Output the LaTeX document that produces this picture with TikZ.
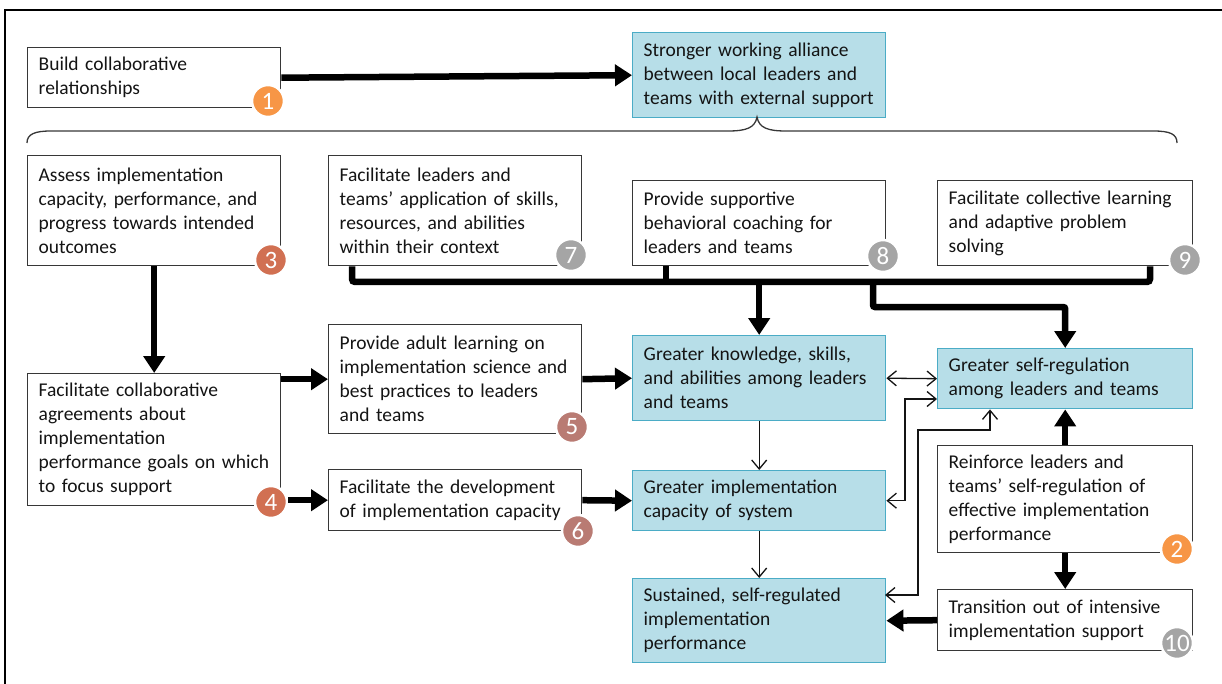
\documentclass[tikz,border=0pt]{standalone}
\usepackage{fontspec}
\setmainfont{Carlito}
\usetikzlibrary{arrows.meta,calc}
\definecolor{outfill}{HTML}{B7DEE8}
\definecolor{tealedge}{HTML}{4BACC6}
\definecolor{badgeorange}{HTML}{F79646}
\definecolor{badgerust}{HTML}{D17052}
\definecolor{badgerose}{HTML}{B97B73}
\definecolor{badgegray}{HTML}{A5A5A5}
\definecolor{ink}{HTML}{141414}
\begin{document}
\begin{tikzpicture}[x=1pt,y=-1pt,
  actbox/.style={draw=ink!85, line width=1.4pt, fill=white, anchor=north west,
    inner xsep=11pt, inner ysep=0pt, align=left, text=ink,
    font=\fontsize{19.5}{24}\selectfont},
  outbox/.style={actbox, draw=tealedge, fill=outfill},
  badge/.style={circle, fill=#1, draw=white, line width=2.5pt, minimum size=32pt,
    inner sep=0pt, text=white, font=\fontsize{25}{25}\selectfont},
  heavy/.style={line width=6.5pt, -{Triangle[length=17pt,width=21pt]}},
  bus/.style={line width=6.5pt, rounded corners=3pt},
  lightto/.style={line width=1.3pt, draw=ink, -{Straight Barb[length=9pt,width=15pt]}},
  lightboth/.style={line width=1.3pt, draw=ink,
    {Straight Barb[length=9pt,width=15pt]}-{Straight Barb[length=9pt,width=15pt]}}]
\useasboundingbox (0,0) rectangle (1222,684);

% outer frame
\draw[line width=2.5pt] (5,690) -- (5,10) -- (1230,10);

% activity boxes and outcome boxes
\node[actbox, minimum height=60pt, text width=231pt] (b1) at (27,47)
  {Build collaborative\\relationships};
\node[outbox, minimum height=85pt, text width=231pt] (alliance) at (632,32)
  {Stronger working alliance\\between local leaders and\\teams with external support};
\node[actbox, minimum height=110pt, text width=231pt] (b3) at (27,155)
  {Assess implementation\\capacity, performance, and\\progress towards intended\\outcomes};
\node[actbox, minimum height=110pt, text width=231pt] (b7) at (328,155)
  {Facilitate leaders and\\teams’ application of skills,\\resources, and abilities\\within their context};
\node[actbox, minimum height=85pt, text width=231pt] (b8) at (632,180)
  {Provide supportive\\behavioral coaching for\\leaders and teams};
\node[actbox, minimum height=85pt, text width=233pt] (b9) at (937,180)
  {Facilitate collective learning\\and adaptive problem\\solving};
\node[actbox, minimum height=132pt, text width=231pt] (b4) at (27,373)
  {Facilitate collaborative\\agreements about\\implementation\\performance goals on which\\to focus support};
\node[actbox, minimum height=109pt, text width=231pt] (b5) at (328,324)
  {Provide adult learning on\\implementation science and\\best practices to leaders\\and teams};
\node[actbox, minimum height=61pt, text width=231pt] (b6) at (328,469)
  {Facilitate the development\\of implementation capacity};
\node[outbox, minimum height=85pt, text width=231pt] (ksa) at (632,335)
  {Greater knowledge, skills,\\and abilities among leaders\\and teams};
\node[outbox, minimum height=60pt, text width=231pt] (gic) at (632,470)
  {Greater implementation\\capacity of system};
\node[outbox, minimum height=84pt, text width=231pt] (ssr) at (632,578)
  {Sustained, self-regulated\\implementation\\performance};
\node[outbox, minimum height=60pt, text width=233pt] (sr) at (937,348)
  {Greater self-regulation\\among leaders and teams};
\node[actbox, minimum height=107pt, text width=233pt] (b2) at (937,445)
  {Reinforce leaders and\\teams’ self-regulation of\\effective implementation\\performance};
\node[actbox, minimum height=61pt, text width=233pt] (b10) at (937,589)
  {Transition out of intensive\\implementation support};

% brace grouping the supports under the working alliance
\draw[line width=1.3pt, draw=ink!85]
  (27,143) .. controls (27,134) and (35,131) .. (51,131) -- (728,131)
  .. controls (746,131) and (755,128) .. (757,117)
  .. controls (759,128) and (768,131) .. (786,131) -- (1153,131)
  .. controls (1170,131) and (1177,134) .. (1177,143);

% shared support bus
\coordinate (busL) at (352,282);
\coordinate (busR) at (1150,282);
\coordinate (drop8) at (666,282);
\coordinate (fork) at (873,282);
\coordinate (elbow) at (873,307);
\draw[bus] (b7.south -| busL) -- (busL) -- (busR) -- (b9.south -| busR);
\draw[bus] (b8.south -| drop8) -- (drop8);
\draw[heavy] (ksa.north |- busL) -- (ksa.north);
\draw[heavy, rounded corners=2pt] (fork) -- (elbow) -- (sr.north |- elbow) -- (sr.north);

% heavy connectors
\draw[heavy] (b1.east) -- (alliance.west);
\draw[heavy] (b3.south) -- (b4.north);
\draw[heavy] (b4.east |- b5.west) -- (b5.west);
\draw[heavy] (b5.east) -- (ksa.west);
\draw[heavy] (b6.east) -- (gic.west);
\draw[heavy] (b2.north) -- (sr.south);
\draw[heavy] (b2.south) -- (b10.north);
\draw[heavy] (b10.west) -- (ssr.east);

% light feedback connectors
\coordinate (j1) at (905,399);
\coordinate (j2) at (918,430);
\coordinate (j3) at (990,430);
\coordinate (ssrin) at (885,595);
\draw[lightboth] (ksa.east) -- (sr.west);
\draw[lightto] (ksa.south) -- (gic.north);
\draw[lightto] (gic.south) -- (ssr.north);
\draw[lightboth] (gic.east) -| (j1) -- (sr.west |- j1);
\draw[lightboth] (ssrin) -| (j2) -- (j3) -- (sr.south -| j3);

% numbered badges
\node[badge=badgeorange] (n1) at (268,101) {1};
\node[badge=badgeorange] (n2) at (1177,549) {2};
\node[badge=badgerust] (n3) at (271,260) {3};
\node[badge=badgerust] (n4) at (271,502) {4};
\node[badge=badgerose] (n5) at (572,427) {5};
\node[badge=badgerose] (n6) at (578,531) {6};
\node[badge=badgegray] (n7) at (571,255) {7};
\node[badge=badgegray] (n8) at (883,256) {8};
\node[badge=badgegray] (n9) at (1185,260) {9};
\node[badge=badgegray] (n10) at (1177,643) {10};
\draw[heavy] (b6.west -| n4.east) -- (b6.west);
\end{tikzpicture}
\end{document}
